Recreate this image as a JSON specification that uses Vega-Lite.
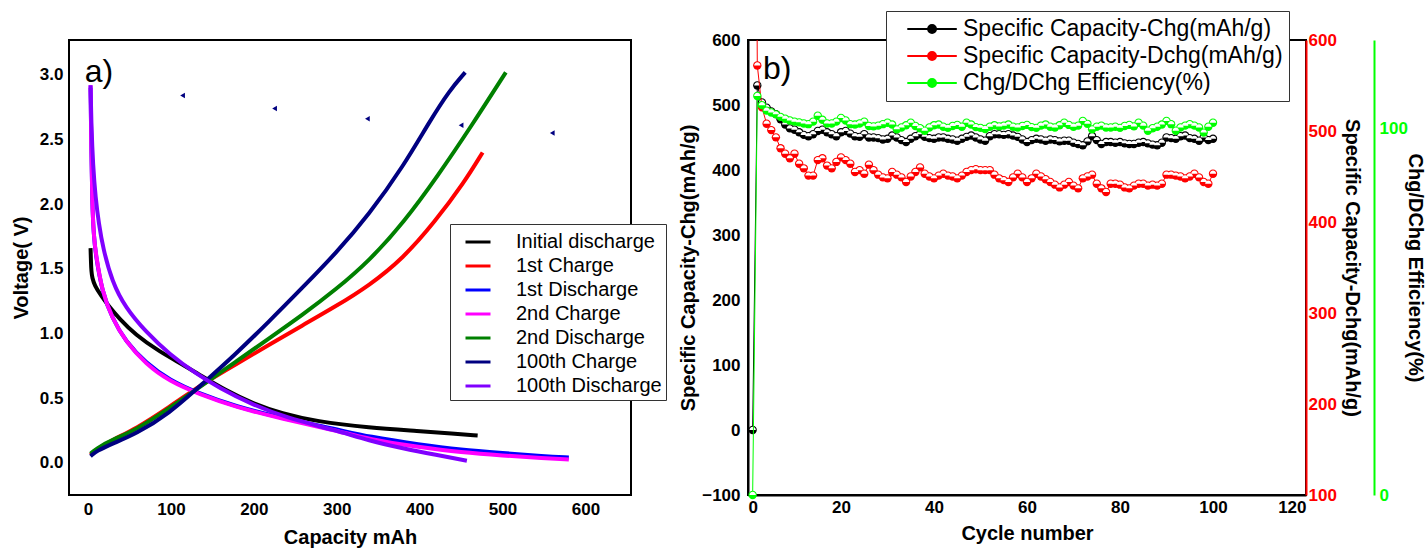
{
  "$schema": "https://vega.github.io/schema/vega-lite/v6.json",
  "padding": {"left": 10, "top": 9, "right": 2, "bottom": 2},
  "background": "white",
  "spacing": 117,
  "bounds": "flush",
  "resolve": {"scale": {"color": "independent"}, "legend": {"color": "independent"}},
  "config": {
    "font": "Liberation Sans",
    "view": {"stroke": "black", "strokeWidth": 2},
    "axis": {"ticks": false, "grid": false, "domain": false, "labelFont": "Liberation Sans", "labelFontSize": 17, "labelFontWeight": "bold", "labelColor": "black", "titleFont": "Liberation Sans", "titleFontSize": 20, "titleFontWeight": "bold", "titleColor": "black"},
    "legend": {"labelFont": "Liberation Sans", "labelColor": "black", "labelLimit": 0}
  },
  "datasets": {
    "curves": [
      {"s": "Initial discharge", "cap": 3, "v": 1.66}, {"s": "Initial discharge", "cap": 3.5, "v": 1.55}, {"s": "Initial discharge", "cap": 4, "v": 1.48}, {"s": "Initial discharge", "cap": 5, "v": 1.43}, {"s": "Initial discharge", "cap": 8, "v": 1.37}, {"s": "Initial discharge", "cap": 15, "v": 1.3}, {"s": "Initial discharge", "cap": 25, "v": 1.21}, {"s": "Initial discharge", "cap": 37, "v": 1.12}, {"s": "Initial discharge", "cap": 57, "v": 0.99}, {"s": "Initial discharge", "cap": 86, "v": 0.86}, {"s": "Initial discharge", "cap": 114, "v": 0.76}, {"s": "Initial discharge", "cap": 137, "v": 0.67}, {"s": "Initial discharge", "cap": 166, "v": 0.56}, {"s": "Initial discharge", "cap": 198, "v": 0.46}, {"s": "Initial discharge", "cap": 234, "v": 0.38}, {"s": "Initial discharge", "cap": 275, "v": 0.32}, {"s": "Initial discharge", "cap": 339, "v": 0.27}, {"s": "Initial discharge", "cap": 400, "v": 0.245}, {"s": "Initial discharge", "cap": 440, "v": 0.225}, {"s": "Initial discharge", "cap": 470, "v": 0.21},
      {"s": "1st Charge", "cap": 3, "v": 0.06}, {"s": "1st Charge", "cap": 10, "v": 0.1}, {"s": "1st Charge", "cap": 30, "v": 0.18}, {"s": "1st Charge", "cap": 57, "v": 0.26}, {"s": "1st Charge", "cap": 98, "v": 0.43}, {"s": "1st Charge", "cap": 138, "v": 0.61}, {"s": "1st Charge", "cap": 178, "v": 0.76}, {"s": "1st Charge", "cap": 218, "v": 0.91}, {"s": "1st Charge", "cap": 258, "v": 1.06}, {"s": "1st Charge", "cap": 299, "v": 1.21}, {"s": "1st Charge", "cap": 339, "v": 1.37}, {"s": "1st Charge", "cap": 380, "v": 1.58}, {"s": "1st Charge", "cap": 418, "v": 1.86}, {"s": "1st Charge", "cap": 454, "v": 2.17}, {"s": "1st Charge", "cap": 476, "v": 2.4},
      {"s": "1st Discharge", "cap": 3, "v": 2.9}, {"s": "1st Discharge", "cap": 4, "v": 2.4}, {"s": "1st Discharge", "cap": 5, "v": 2.0}, {"s": "1st Discharge", "cap": 7, "v": 1.75}, {"s": "1st Discharge", "cap": 9, "v": 1.62}, {"s": "1st Discharge", "cap": 17, "v": 1.32}, {"s": "1st Discharge", "cap": 29, "v": 1.12}, {"s": "1st Discharge", "cap": 45, "v": 0.94}, {"s": "1st Discharge", "cap": 70, "v": 0.77}, {"s": "1st Discharge", "cap": 98, "v": 0.64}, {"s": "1st Discharge", "cap": 134, "v": 0.535}, {"s": "1st Discharge", "cap": 178, "v": 0.435}, {"s": "1st Discharge", "cap": 234, "v": 0.345}, {"s": "1st Discharge", "cap": 299, "v": 0.26}, {"s": "1st Discharge", "cap": 339, "v": 0.2}, {"s": "1st Discharge", "cap": 400, "v": 0.14}, {"s": "1st Discharge", "cap": 450, "v": 0.1}, {"s": "1st Discharge", "cap": 500, "v": 0.075}, {"s": "1st Discharge", "cap": 550, "v": 0.05}, {"s": "1st Discharge", "cap": 580, "v": 0.04},
      {"s": "2nd Charge", "cap": 3, "v": 2.92}, {"s": "2nd Charge", "cap": 4, "v": 2.4}, {"s": "2nd Charge", "cap": 5, "v": 2.0}, {"s": "2nd Charge", "cap": 7, "v": 1.75}, {"s": "2nd Charge", "cap": 9, "v": 1.63}, {"s": "2nd Charge", "cap": 17, "v": 1.32}, {"s": "2nd Charge", "cap": 29, "v": 1.12}, {"s": "2nd Charge", "cap": 45, "v": 0.94}, {"s": "2nd Charge", "cap": 70, "v": 0.76}, {"s": "2nd Charge", "cap": 98, "v": 0.63}, {"s": "2nd Charge", "cap": 134, "v": 0.53}, {"s": "2nd Charge", "cap": 178, "v": 0.43}, {"s": "2nd Charge", "cap": 234, "v": 0.34}, {"s": "2nd Charge", "cap": 299, "v": 0.25}, {"s": "2nd Charge", "cap": 339, "v": 0.18}, {"s": "2nd Charge", "cap": 400, "v": 0.12}, {"s": "2nd Charge", "cap": 450, "v": 0.08}, {"s": "2nd Charge", "cap": 500, "v": 0.055}, {"s": "2nd Charge", "cap": 550, "v": 0.035}, {"s": "2nd Charge", "cap": 580, "v": 0.025},
      {"s": "2nd Discharge", "cap": 3, "v": 0.07}, {"s": "2nd Discharge", "cap": 10, "v": 0.11}, {"s": "2nd Discharge", "cap": 30, "v": 0.18}, {"s": "2nd Discharge", "cap": 57, "v": 0.25}, {"s": "2nd Discharge", "cap": 98, "v": 0.42}, {"s": "2nd Discharge", "cap": 138, "v": 0.6}, {"s": "2nd Discharge", "cap": 178, "v": 0.78}, {"s": "2nd Discharge", "cap": 218, "v": 0.96}, {"s": "2nd Discharge", "cap": 258, "v": 1.14}, {"s": "2nd Discharge", "cap": 299, "v": 1.34}, {"s": "2nd Discharge", "cap": 339, "v": 1.56}, {"s": "2nd Discharge", "cap": 381, "v": 1.86}, {"s": "2nd Discharge", "cap": 422, "v": 2.22}, {"s": "2nd Discharge", "cap": 462, "v": 2.6}, {"s": "2nd Discharge", "cap": 504, "v": 3.02},
      {"s": "100th Charge", "cap": 3, "v": 0.05}, {"s": "100th Charge", "cap": 10, "v": 0.09}, {"s": "100th Charge", "cap": 30, "v": 0.15}, {"s": "100th Charge", "cap": 57, "v": 0.22}, {"s": "100th Charge", "cap": 98, "v": 0.38}, {"s": "100th Charge", "cap": 138, "v": 0.61}, {"s": "100th Charge", "cap": 178, "v": 0.84}, {"s": "100th Charge", "cap": 218, "v": 1.09}, {"s": "100th Charge", "cap": 258, "v": 1.35}, {"s": "100th Charge", "cap": 299, "v": 1.62}, {"s": "100th Charge", "cap": 339, "v": 1.92}, {"s": "100th Charge", "cap": 381, "v": 2.3}, {"s": "100th Charge", "cap": 412, "v": 2.64}, {"s": "100th Charge", "cap": 436, "v": 2.88}, {"s": "100th Charge", "cap": 455, "v": 3.02},
      {"s": "100th Discharge", "cap": 3, "v": 2.92}, {"s": "100th Discharge", "cap": 4, "v": 2.6}, {"s": "100th Discharge", "cap": 6, "v": 2.3}, {"s": "100th Discharge", "cap": 9, "v": 2.05}, {"s": "100th Discharge", "cap": 13, "v": 1.85}, {"s": "100th Discharge", "cap": 18, "v": 1.66}, {"s": "100th Discharge", "cap": 29, "v": 1.4}, {"s": "100th Discharge", "cap": 45, "v": 1.2}, {"s": "100th Discharge", "cap": 70, "v": 1.01}, {"s": "100th Discharge", "cap": 98, "v": 0.84}, {"s": "100th Discharge", "cap": 130, "v": 0.69}, {"s": "100th Discharge", "cap": 158, "v": 0.58}, {"s": "100th Discharge", "cap": 198, "v": 0.45}, {"s": "100th Discharge", "cap": 238, "v": 0.35}, {"s": "100th Discharge", "cap": 299, "v": 0.25}, {"s": "100th Discharge", "cap": 339, "v": 0.17}, {"s": "100th Discharge", "cap": 380, "v": 0.11}, {"s": "100th Discharge", "cap": 420, "v": 0.06}, {"s": "100th Discharge", "cap": 457, "v": 0.015}
    ],
    "tri": [
      {"cap": 114, "v": 2.84}, {"cap": 225, "v": 2.74}, {"cap": 337, "v": 2.66}, {"cap": 450, "v": 2.61}, {"cap": 560, "v": 2.55}
    ],
    "cyc": [
      {"c": 1, "chg": 0, "dchg": 1500, "eff": 0},
      {"c": 2, "chg": 530, "dchg": 572, "eff": 109},
      {"c": 3, "chg": 504, "dchg": 526, "eff": 106.5},
      {"c": 4, "chg": 496, "dchg": 508, "eff": 105},
      {"c": 5, "chg": 490, "dchg": 501, "eff": 104.5},
      {"c": 6, "chg": 486, "dchg": 493, "eff": 104},
      {"c": 7, "chg": 478, "dchg": 481, "eff": 103.3},
      {"c": 8, "chg": 470, "dchg": 475, "eff": 102.8},
      {"c": 9, "chg": 464, "dchg": 470, "eff": 102.3},
      {"c": 10, "chg": 462, "dchg": 475, "eff": 102},
      {"c": 11, "chg": 458, "dchg": 464, "eff": 101.8},
      {"c": 12, "chg": 454, "dchg": 459, "eff": 101.5},
      {"c": 13, "chg": 452, "dchg": 451, "eff": 101.3},
      {"c": 14, "chg": 455, "dchg": 451, "eff": 102},
      {"c": 15, "chg": 460, "dchg": 468, "eff": 103.6},
      {"c": 16, "chg": 462, "dchg": 470, "eff": 102.5},
      {"c": 17, "chg": 458, "dchg": 462, "eff": 101.5},
      {"c": 18, "chg": 455, "dchg": 459, "eff": 101.5},
      {"c": 19, "chg": 452, "dchg": 466, "eff": 102},
      {"c": 20, "chg": 458, "dchg": 471, "eff": 103},
      {"c": 21, "chg": 460, "dchg": 468, "eff": 102.3},
      {"c": 22, "chg": 456, "dchg": 464, "eff": 101.3},
      {"c": 23, "chg": 452, "dchg": 455, "eff": 101.2},
      {"c": 24, "chg": 451, "dchg": 457, "eff": 101.5},
      {"c": 25, "chg": 455, "dchg": 453, "eff": 102},
      {"c": 26, "chg": 450, "dchg": 463, "eff": 100.8},
      {"c": 27, "chg": 450, "dchg": 457, "eff": 100.7},
      {"c": 28, "chg": 449, "dchg": 452, "eff": 100.9},
      {"c": 29, "chg": 447, "dchg": 449, "eff": 101.3},
      {"c": 30, "chg": 448, "dchg": 448, "eff": 101.7},
      {"c": 31, "chg": 453, "dchg": 455, "eff": 101.2},
      {"c": 32, "chg": 450, "dchg": 452, "eff": 99.9},
      {"c": 33, "chg": 446, "dchg": 449, "eff": 100.4},
      {"c": 34, "chg": 443, "dchg": 444, "eff": 101},
      {"c": 35, "chg": 448, "dchg": 450, "eff": 101.7},
      {"c": 36, "chg": 452, "dchg": 455, "eff": 100.8},
      {"c": 37, "chg": 455, "dchg": 460, "eff": 100.2},
      {"c": 38, "chg": 451, "dchg": 453, "eff": 99.5},
      {"c": 39, "chg": 449, "dchg": 450, "eff": 100.4},
      {"c": 40, "chg": 448, "dchg": 448, "eff": 101},
      {"c": 41, "chg": 450, "dchg": 451, "eff": 101.2},
      {"c": 42, "chg": 450, "dchg": 453, "eff": 100.6},
      {"c": 43, "chg": 448, "dchg": 451, "eff": 100.3},
      {"c": 44, "chg": 447, "dchg": 450, "eff": 100.8},
      {"c": 45, "chg": 445, "dchg": 448, "eff": 101.1},
      {"c": 46, "chg": 448, "dchg": 451, "eff": 100.6},
      {"c": 47, "chg": 451, "dchg": 455, "eff": 101.7},
      {"c": 48, "chg": 453, "dchg": 457, "eff": 101.2},
      {"c": 49, "chg": 450, "dchg": 458, "eff": 100.5},
      {"c": 50, "chg": 447, "dchg": 457, "eff": 100.3},
      {"c": 51, "chg": 445, "dchg": 457, "eff": 100},
      {"c": 52, "chg": 452, "dchg": 457, "eff": 100.6},
      {"c": 53, "chg": 455, "dchg": 452, "eff": 101},
      {"c": 54, "chg": 455, "dchg": 448, "eff": 100.7},
      {"c": 55, "chg": 454, "dchg": 446, "eff": 100.9},
      {"c": 56, "chg": 455, "dchg": 444, "eff": 101.2},
      {"c": 57, "chg": 453, "dchg": 449, "eff": 100.6},
      {"c": 58, "chg": 451, "dchg": 453, "eff": 100.4},
      {"c": 59, "chg": 447, "dchg": 449, "eff": 100.8},
      {"c": 60, "chg": 443, "dchg": 444, "eff": 101.1},
      {"c": 61, "chg": 446, "dchg": 448, "eff": 100.5},
      {"c": 62, "chg": 448, "dchg": 453, "eff": 100.3},
      {"c": 63, "chg": 447, "dchg": 450, "eff": 100.9},
      {"c": 64, "chg": 445, "dchg": 447, "eff": 101.2},
      {"c": 65, "chg": 447, "dchg": 444, "eff": 100.6},
      {"c": 66, "chg": 446, "dchg": 441, "eff": 100.4},
      {"c": 67, "chg": 444, "dchg": 438, "eff": 101},
      {"c": 68, "chg": 445, "dchg": 441, "eff": 101.7},
      {"c": 69, "chg": 445, "dchg": 444, "eff": 101.1},
      {"c": 70, "chg": 442, "dchg": 440, "eff": 100.6},
      {"c": 71, "chg": 440, "dchg": 437, "eff": 100.9},
      {"c": 72, "chg": 438, "dchg": 448, "eff": 102.2},
      {"c": 73, "chg": 444, "dchg": 450, "eff": 101.4},
      {"c": 74, "chg": 452, "dchg": 452, "eff": 99.9},
      {"c": 75, "chg": 446, "dchg": 442, "eff": 100.6},
      {"c": 76, "chg": 440, "dchg": 437, "eff": 100.9},
      {"c": 77, "chg": 443, "dchg": 433, "eff": 100.4},
      {"c": 78, "chg": 443, "dchg": 442, "eff": 100.4},
      {"c": 79, "chg": 442, "dchg": 442, "eff": 100.6},
      {"c": 80, "chg": 443, "dchg": 441, "eff": 100.3},
      {"c": 81, "chg": 441, "dchg": 438, "eff": 100.8},
      {"c": 82, "chg": 440, "dchg": 437, "eff": 101.1},
      {"c": 83, "chg": 440, "dchg": 440, "eff": 100.7},
      {"c": 84, "chg": 442, "dchg": 442, "eff": 101.7},
      {"c": 85, "chg": 443, "dchg": 442, "eff": 100.9},
      {"c": 86, "chg": 441, "dchg": 440, "eff": 99.5},
      {"c": 87, "chg": 439, "dchg": 441, "eff": 100.2},
      {"c": 88, "chg": 438, "dchg": 440, "eff": 100.6},
      {"c": 89, "chg": 442, "dchg": 442, "eff": 101.2},
      {"c": 90, "chg": 450, "dchg": 452, "eff": 102.2},
      {"c": 91, "chg": 449, "dchg": 452, "eff": 101.3},
      {"c": 92, "chg": 448, "dchg": 451, "eff": 99.5},
      {"c": 93, "chg": 452, "dchg": 450, "eff": 100.4},
      {"c": 94, "chg": 453, "dchg": 448, "eff": 100.9},
      {"c": 95, "chg": 449, "dchg": 450, "eff": 101.3},
      {"c": 96, "chg": 448, "dchg": 453, "eff": 100.9},
      {"c": 97, "chg": 445, "dchg": 449, "eff": 100.4},
      {"c": 98, "chg": 450, "dchg": 444, "eff": 99},
      {"c": 99, "chg": 446, "dchg": 442, "eff": 100.6},
      {"c": 100, "chg": 448, "dchg": 453, "eff": 101.7}
    ]
  },
  "hconcat": [
    {
      "width": 562,
      "height": 455,
      "layer": [
        {
          "data": {"name": "curves"},
          "mark": {"type": "line", "strokeWidth": 4, "interpolate": "basis"},
          "encoding": {
            "x": {"field": "cap", "type": "quantitative", "scale": {"domain": [-23, 655], "nice": false, "zero": false}, "axis": {"values": [0, 100, 200, 300, 400, 500, 600], "title": "Capacity mAh", "labelPadding": 6, "titlePadding": 10}},
            "y": {"field": "v", "type": "quantitative", "scale": {"domain": [-0.25, 3.27], "nice": false, "zero": false}, "axis": {"values": [0, 0.5, 1, 1.5, 2, 2.5, 3], "format": ".1f", "title": "Voltage( V)", "labelPadding": 6, "titlePadding": 8}},
            "color": {
              "field": "s", "type": "nominal",
              "scale": {"domain": ["Initial discharge", "1st Charge", "1st Discharge", "2nd Charge", "2nd Discharge", "100th Charge", "100th Discharge"], "range": ["#000000", "#ff0000", "#0000ff", "#ff00ff", "#008000", "#000080", "#8000ff"]},
              "legend": {"orient": "none", "legendX": 381, "legendY": 184, "title": null, "symbolType": "stroke", "symbolSize": 625, "symbolStrokeWidth": 3, "symbolOffset": 10, "labelFontSize": 20, "labelOffset": 24, "padding": 4, "rowPadding": 0, "strokeColor": "#333333", "fillColor": "white"}
            }
          }
        },
        {
          "data": {"name": "tri"},
          "mark": {"type": "point", "shape": "triangle-left", "filled": true, "color": "#000080", "size": 30, "opacity": 1},
          "encoding": {
            "x": {"field": "cap", "type": "quantitative"},
            "y": {"field": "v", "type": "quantitative"}
          }
        },
        {
          "data": {"values": [{"label": "a)"}]},
          "mark": {"type": "text", "fontSize": 32, "align": "left", "baseline": "middle", "font": "Liberation Sans", "color": "black"},
          "encoding": {
            "x": {"datum": -4, "type": "quantitative"},
            "y": {"datum": 3.02, "type": "quantitative"},
            "text": {"field": "label"}
          }
        }
      ]
    },
    {
      "width": 558,
      "height": 455,
      "layer": [
        {
          "data": {"name": "cyc"},
          "encoding": {
            "x": {"field": "c", "type": "quantitative", "scale": {"domain": [0, 120], "nice": false, "zero": false}, "axis": {"values": [0, 20, 40, 60, 80, 100, 120], "title": "Cycle number", "labelPadding": 4, "titlePadding": 8, "domain": true, "domainColor": "black", "domainWidth": 2}},
            "y": {"field": "chg", "type": "quantitative", "scale": {"domain": [-100, 600], "nice": false, "zero": false}, "axis": {"orient": "left", "values": [-100, 0, 100, 200, 300, 400, 500, 600], "title": "Specific Capacity-Chg(mAh/g)", "labelPadding": 8, "titlePadding": 3, "domain": true, "domainColor": "black", "domainWidth": 2}}
          },
          "layer": [
            {
              "mark": {"type": "line", "strokeWidth": 1},
              "encoding": {
                "color": {
                  "datum": "Specific Capacity-Chg(mAh/g)",
                  "scale": {"domain": ["Specific Capacity-Chg(mAh/g)", "Specific Capacity-Dchg(mAh/g)", "Chg/DChg Efficiency(%)"], "range": ["#000000", "#ff0000", "#00ff00"]},
                  "legend": {"orient": "none", "legendX": 138, "legendY": -29, "title": null, "symbolType": "M0.3,0H2.19M2.91,0H4.8M2.19,0A0.36,0.36,0,1,1,2.91,0A0.36,0.36,0,1,1,2.19,0M2.37,0A0.18,0.18,0,1,1,2.73,0A0.18,0.18,0,1,1,2.37,0M2.45,0H2.65", "symbolSize": 484, "symbolStrokeWidth": 2, "labelFontSize": 23, "labelOffset": 47, "labelLimit": 0, "padding": 6, "rowPadding": 3, "strokeColor": "#333333", "fillColor": "white"}
                }
              }
            },
            {"mark": {"type": "point", "shape": "circle", "filled": true, "color": "#000000", "size": 70, "opacity": 1}},
            {"mark": {"type": "point", "shape": "M-1,0A1,1,0,0,1,1,0Z", "filled": true, "color": "white", "size": 40, "opacity": 1}}
          ]
        },
        {
          "data": {"name": "cyc"},
          "encoding": {
            "x": {"field": "c", "type": "quantitative"},
            "y": {"field": "dchg", "type": "quantitative", "scale": {"domain": [100, 600], "nice": false, "zero": false}, "axis": {"orient": "right", "values": [100, 200, 300, 400, 500, 600], "title": "Specific Capacity-Dchg(mAh/g)", "labelColor": "#ff0000", "labelPadding": 2, "titlePadding": 5, "domain": true, "domainColor": "#ff0000", "domainWidth": 2}}
          },
          "layer": [
            {
              "mark": {"type": "line", "strokeWidth": 1, "clip": true},
              "encoding": {"color": {"datum": "Specific Capacity-Dchg(mAh/g)"}}
            },
            {"mark": {"type": "point", "shape": "circle", "filled": true, "color": "#ff0000", "size": 70, "opacity": 1, "clip": true}},
            {"mark": {"type": "point", "shape": "M-1,0A1,1,0,0,1,1,0Z", "filled": true, "color": "white", "size": 40, "opacity": 1, "clip": true}}
          ]
        },
        {
          "data": {"name": "cyc"},
          "encoding": {
            "x": {"field": "c", "type": "quantitative"},
            "y": {"field": "eff", "type": "quantitative", "scale": {"domain": [0, 124.3], "nice": false, "zero": false}, "axis": {"orient": "right", "offset": 68, "values": [0, 100], "title": "Chg/DChg Efficiency(%)", "labelColor": "#00ff00", "labelPadding": 5, "titlePadding": -3, "domain": true, "domainColor": "#00ff00", "domainWidth": 2}}
          },
          "layer": [
            {
              "mark": {"type": "line", "strokeWidth": 1},
              "encoding": {"color": {"datum": "Chg/DChg Efficiency(%)"}}
            },
            {"mark": {"type": "point", "shape": "circle", "filled": true, "color": "#00ff00", "size": 70, "opacity": 1}},
            {"mark": {"type": "point", "shape": "M-1,0A1,1,0,0,1,1,0Z", "filled": true, "color": "white", "size": 40, "opacity": 1}}
          ]
        },
        {
          "data": {"values": [{"label": "b)"}]},
          "mark": {"type": "text", "fontSize": 32, "align": "left", "baseline": "middle", "font": "Liberation Sans", "color": "black"},
          "encoding": {
            "x": {"datum": 3.2, "type": "quantitative"},
            "y": {"datum": 555, "type": "quantitative", "scale": {"domain": [-100, 600], "nice": false, "zero": false}, "axis": null},
            "text": {"field": "label"}
          }
        }
      ],
      "resolve": {"scale": {"y": "independent"}}
    }
  ]
}
